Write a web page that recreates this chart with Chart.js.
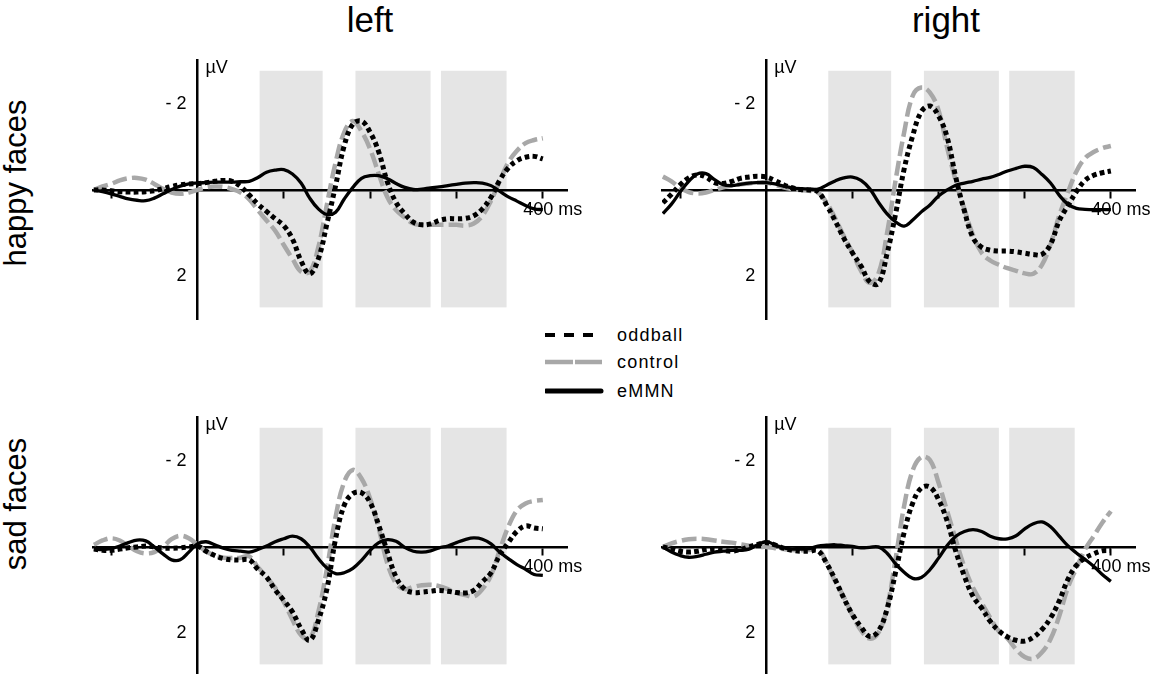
<!DOCTYPE html>
<html>
<head>
<meta charset="utf-8">
<script src="https://cdn.jsdelivr.net/npm/chart.js@4.4.0/dist/chart.umd.min.js"></script>
<style>
  body { margin: 0; background: #fff; width: 1156px; height: 674px; position: relative; overflow: hidden;
         font-family: 'Liberation Sans', Arial, sans-serif; color: #000; }
  .panel { position: absolute; }
  .col-title { position: absolute; top: 0; font-size: 35px; line-height: 40px; transform: translateX(-50%); }
  .row-title { position: absolute; font-size: 31px; line-height: 34px; white-space: nowrap;
               transform: translate(-50%, -50%) rotate(-90deg); }
  .leg-line { position: absolute; left: 545px; }
  .leg-text { position: absolute; left: 617px; font-size: 18px; line-height: 20px; letter-spacing: 1.2px; }
</style>
</head>
<body>

<div class="col-title" style="left:370px">left</div>
<div class="col-title" style="left:946px">right</div>
<div class="row-title" style="left:16px; top:183px">happy faces</div>
<div class="row-title" style="left:16px; top:504px">sad faces</div>

<svg class="leg-line" style="top:330px" width="60" height="10"><line x1="0" y1="5" x2="48" y2="5" stroke="#000" stroke-width="4" stroke-dasharray="10 9"/></svg>
<div class="leg-text" style="top:325px">oddball</div>
<svg class="leg-line" style="top:357px" width="60" height="10"><line x1="0" y1="5" x2="57" y2="5" stroke="#a8a8a8" stroke-width="4.5" stroke-dasharray="28 2"/></svg>
<div class="leg-text" style="top:352px">control</div>
<svg class="leg-line" style="top:386px" width="60" height="10"><line x1="1" y1="5" x2="56" y2="5" stroke="#000" stroke-width="5" stroke-linecap="round"/></svg>
<div class="leg-text" style="top:381px">eMMN</div>

<div class="panel" style="left:83px; top:50px; width:510px; height:275px"><canvas id="happy-left"></canvas></div>
<div class="panel" style="left:652px; top:50px; width:504px; height:275px"><canvas id="happy-right"></canvas></div>
<div class="panel" style="left:83px; top:407px; width:510px; height:275px"><canvas id="sad-left"></canvas></div>
<div class="panel" style="left:652px; top:407px; width:504px; height:275px"><canvas id="sad-right"></canvas></div>

<script>
// time in ms, one sample every 10 ms
const times = [-120, -110, -100, -90, -80, -70, -60, -50, -40, -30, -20, -10, 0,
    10, 20, 30, 40, 50, 60, 70, 80, 90, 100, 110, 120, 130, 140, 150, 160, 170, 180, 190, 200,
    210, 220, 230, 240, 250, 260, 270, 280, 290, 300, 310, 320, 330, 340, 350, 360, 370, 380, 390, 400]

// µV, happy faces, left
const happyLeftOddball = [0, 0, 0.02, 0.04, 0.05, 0.05, 0.04, 0.02, -0.03, -0.08, -0.12, -0.14, -0.15,
    -0.17, -0.2, -0.22, -0.2, -0.08, 0.12, 0.33, 0.5, 0.67, 0.83, 1.14, 1.65, 1.95, 1.6, 0.78, -0.1, -1.03, -1.53, -1.6, -1.34,
    -0.88, -0.18, 0.29, 0.55, 0.75, 0.81, 0.79, 0.71, 0.67, 0.67, 0.66, 0.6, 0.44, 0.17, -0.22, -0.51, -0.68, -0.76, -0.78, -0.72]
const happyLeftControl = [0, -0.08, -0.14, -0.22, -0.27, -0.28, -0.24, -0.14, -0.03, 0.06, 0.09, 0.06, 0,
    -0.06, -0.08, -0.07, -0.02, 0.06, 0.22, 0.47, 0.71, 0.95, 1.28, 1.6, 1.9, 1.9, 1.33, 0.33, -0.64, -1.34, -1.6, -1.36, -0.95,
    -0.37, 0.17, 0.47, 0.64, 0.78, 0.81, 0.81, 0.81, 0.81, 0.81, 0.83, 0.78, 0.6, 0.25, -0.2, -0.64, -0.91, -1.09, -1.16, -1.2]
const happyLeftMMN = [0, 0.04, 0.09, 0.15, 0.21, 0.24, 0.25, 0.19, 0.09, -0.01, -0.09, -0.14, -0.16,
    -0.17, -0.18, -0.18, -0.18, -0.19, -0.2, -0.29, -0.41, -0.46, -0.47, -0.37, -0.16, 0.19, 0.44, 0.57, 0.52, 0.21, -0.06, -0.27, -0.33,
    -0.33, -0.26, -0.15, -0.06, -0.01, -0.02, -0.05, -0.07, -0.1, -0.13, -0.16, -0.17, -0.16, -0.1, 0.03, 0.16, 0.26, 0.36, 0.44, 0.46]

// µV, happy faces, right
const happyRightOddball = [0.3, 0.1, -0.12, -0.28, -0.35, -0.3, -0.17, -0.15, -0.2, -0.27, -0.3, -0.32, -0.3,
    -0.22, -0.12, -0.05, -0.01, 0, 0.04, 0.35, 0.72, 1.12, 1.46, 1.77, 2.13, 2.18, 1.5, 0.57, -0.48, -1.26, -1.82, -1.95, -1.72,
    -1.22, -0.29, 0.49, 1.11, 1.33, 1.4, 1.42, 1.42, 1.44, 1.47, 1.5, 1.5, 1.26, 0.72, 0.37, 0.04, -0.22, -0.34, -0.4, -0.44]
const happyRightControl = [-0.31, -0.2, -0.05, 0.05, 0.08, 0.06, 0, -0.06, -0.1, -0.13, -0.15, -0.17, -0.17,
    -0.12, -0.06, -0.02, 0, 0.02, 0.06, 0.29, 0.66, 1.07, 1.46, 1.88, 2.16, 1.96, 1.03, -0.21, -1.33, -2.19, -2.38, -2.26, -1.85,
    -0.98, -0.21, 0.45, 1.05, 1.46, 1.64, 1.74, 1.82, 1.88, 1.94, 1.95, 1.74, 1.26, 0.6, 0.06, -0.43, -0.74, -0.88, -0.97, -1.02]
const happyRightMMN = [0.55, 0.33, 0.05, -0.2, -0.37, -0.38, -0.24, -0.12, -0.1, -0.13, -0.16, -0.17, -0.17,
    -0.14, -0.09, -0.05, -0.03, -0.02, -0.02, -0.11, -0.21, -0.28, -0.3, -0.22, -0.03, 0.28, 0.55, 0.74, 0.84, 0.7, 0.51, 0.35, 0.14,
    0, -0.11, -0.16, -0.2, -0.25, -0.29, -0.36, -0.44, -0.5, -0.55, -0.52, -0.36, -0.16, 0.12, 0.33, 0.43, 0.45, 0.46, 0.46, 0.46]

// µV, sad faces, left
const sadLeftOddball = [0.05, 0.08, 0.08, 0.05, 0.02, 0, -0.02, 0, 0.03, 0.03, 0.02, 0, -0.02,
    0.1, 0.2, 0.27, 0.3, 0.3, 0.3, 0.52, 0.7, 1, 1.24, 1.51, 1.9, 2.17, 1.71, 0.97, -0.19, -0.97, -1.24, -1.26, -1.03,
    -0.5, 0.12, 0.7, 0.98, 1.06, 1.05, 1.03, 1.01, 1.03, 1.06, 1.07, 1.01, 0.81, 0.6, 0.19, -0.1, -0.36, -0.49, -0.44, -0.42]
const sadLeftControl = [-0.05, -0.15, -0.2, -0.15, -0.02, 0.1, 0.15, 0.12, 0, -0.18, -0.26, -0.2, -0.05,
    0.1, 0.2, 0.25, 0.26, 0.25, 0.22, 0.47, 0.7, 0.95, 1.28, 1.69, 2.05, 2.13, 1.51, 0.5, -0.7, -1.51, -1.79, -1.59, -1.12,
    -0.43, 0.39, 0.85, 0.98, 0.93, 0.89, 0.88, 0.91, 0.98, 1.07, 1.12, 1.15, 0.98, 0.66, 0.08, -0.47, -0.85, -1.01, -1.07, -1.09]
const sadLeftMMN = [0.05, 0.06, 0.04, -0.02, -0.1, -0.16, -0.14, 0, 0.16, 0.3, 0.3, 0.12, -0.07,
    -0.12, -0.05, 0.03, 0.08, 0.1, 0.12, 0.06, -0.02, -0.12, -0.19, -0.25, -0.19, 0, 0.27, 0.49, 0.62, 0.6, 0.5, 0.31, 0.08,
    -0.1, -0.17, -0.13, 0.01, 0.1, 0.12, 0.09, 0.02, -0.02, -0.1, -0.17, -0.21, -0.18, -0.07, 0.12, 0.27, 0.41, 0.52, 0.64, 0.66]

// µV, sad faces, right
const sadRightOddball = [0, 0.05, 0.1, 0.12, 0.1, 0.06, 0.05, 0.08, 0.1, 0.06, 0, -0.06, -0.1,
    -0.05, 0.03, 0.08, 0.1, 0.1, 0.09, 0.38, 0.76, 1.19, 1.57, 1.86, 2.08, 1.96, 1.46, 0.6, -0.33, -1.02, -1.37, -1.39, -1.1,
    -0.6, 0.1, 0.68, 1.15, 1.42, 1.73, 1.95, 2.09, 2.17, 2.19, 2.1, 1.92, 1.65, 1.26, 0.76, 0.43, 0.26, 0.16, 0.09, 0.08]
const sadRightControl = [0, -0.08, -0.14, -0.18, -0.19, -0.18, -0.15, -0.12, -0.1, -0.06, -0.03, 0, 0,
    0.03, 0.05, 0.07, 0.08, 0.07, 0.05, 0.36, 0.8, 1.16, 1.59, 1.94, 2.13, 2, 1.42, 0.29, -0.95, -1.78, -2.09, -2.02, -1.49,
    -0.83, -0.17, 0.47, 0.95, 1.3, 1.65, 1.96, 2.13, 2.38, 2.56, 2.6, 2.45, 2.14, 1.61, 0.95, 0.49, 0.06, -0.25, -0.56, -0.83]
const sadRightMMN = [0, 0.12, 0.2, 0.24, 0.22, 0.17, 0.12, 0.1, 0.08, 0.08, 0.05, -0.05, -0.12,
    -0.05, 0.02, 0.05, 0.05, 0.04, -0.02, -0.04, -0.05, -0.03, -0.01, 0.02, 0.01, 0, 0.14, 0.39, 0.59, 0.73, 0.71, 0.53, 0.26,
    -0.03, -0.25, -0.36, -0.4, -0.36, -0.25, -0.19, -0.19, -0.26, -0.42, -0.54, -0.58, -0.47, -0.25, -0.03, 0.14, 0.29, 0.45, 0.64, 0.8]

// analysis windows (ms) shaded in grey
const windows = [[72, 145], [183, 270], [282, 358]]
const xTicks = [-100, 100, 200, 300, 400]
const yTicks = [-2, 2]

Chart.defaults.font.family = "'Liberation Sans', Arial, sans-serif"
Chart.defaults.color = '#000'

// grey windows behind everything, plus the y labels and the µV unit
const erpDecor = {
    id: 'erpDecor',
    beforeDraw(chart) {
        const {ctx, scales: {x, y}} = chart
        const top = y.getPixelForValue(-2.77)
        const bottom = y.getPixelForValue(2.73)
        ctx.save()
        ctx.fillStyle = '#e5e5e5'
        windows.forEach(w => {
            const l = x.getPixelForValue(w[0])
            const r = x.getPixelForValue(w[1])
            ctx.fillRect(l, top, r - l, bottom - top)
        })
        ctx.restore()
    },
    afterDraw(chart) {
        const {ctx, scales: {x, y}, chartArea} = chart
        const x0 = x.getPixelForValue(0)
        ctx.save()
        ctx.fillStyle = '#000'
        ctx.font = "18px 'Liberation Sans', Arial, sans-serif"
        ctx.textBaseline = 'middle'
        ctx.textAlign = 'right'
        yTicks.forEach(v => {
            ctx.fillText(v < 0 ? '- ' + (-v) : String(v), x0 - 11, y.getPixelForValue(v))
        })
        ctx.textAlign = 'left'
        ctx.textBaseline = 'top'
        ctx.fillText('µV', x0 + 8, chartArea.top - 1)
        ctx.restore()
    }
}

let makePanel = function(id, oddball, control, mmn, pad) {
    return new Chart(document.getElementById(id), {
        type: 'line',
        data: {
            labels: times,
            datasets: [
                {
                    label: 'eMMN',
                    data: mmn,
                    borderColor: '#000',
                    borderWidth: 3.3,
                    order: 0,
                },
                {
                    label: 'oddball',
                    data: oddball,
                    borderColor: '#000',
                    borderWidth: 5,
                    borderDash: [4.5, 3.5],
                    order: 1,
                },
                {
                    label: 'control',
                    data: control,
                    borderColor: '#a8a8a8',
                    borderWidth: 4.5,
                    borderDash: [15, 5],
                    order: 2,
                },
            ],
        },
        options: {
            responsive: true,
            maintainAspectRatio: false,
            animation: false,
            layout: { padding: pad },
            elements: {
                point: { radius: 0 },
                line: { tension: 0.4, fill: false },
            },
            plugins: {
                legend: { display: false },
                tooltip: { enabled: false },
            },
            scales: {
                x: {
                    type: 'linear',
                    min: -121,
                    max: 428,
                    position: { y: 0 },
                    afterBuildTicks: s => { s.ticks = xTicks.map(v => ({ value: v })) },
                    ticks: {
                        autoSkip: false,
                        maxRotation: 0,
                        padding: 2,
                        labelOffset: 10,
                        font: { size: 18 },
                        callback: v => v === 400 ? '400 ms' : '',
                    },
                    grid: { drawOnChartArea: false, tickLength: 7, tickWidth: 2, tickColor: '#000' },
                    border: { color: '#000', width: 2.5 },
                },
                y: {
                    type: 'linear',
                    min: -3.02,
                    max: 3.0,
                    reverse: true,
                    position: { x: 0 },
                    afterBuildTicks: s => { s.ticks = yTicks.map(v => ({ value: v })) },
                    ticks: { display: false },
                    grid: { drawOnChartArea: false, drawTicks: false },
                    border: { color: '#000', width: 2.5 },
                },
            },
        },
        plugins: [erpDecor],
    })
}

const happyLeftChart = makePanel('happy-left', happyLeftOddball, happyLeftControl, happyLeftMMN,
    { left: 10, right: 26, top: 10, bottom: 6 })
const happyRightChart = makePanel('happy-right', happyRightOddball, happyRightControl, happyRightMMN,
    { left: 10, right: 21, top: 10, bottom: 6 })
const sadLeftChart = makePanel('sad-left', sadLeftOddball, sadLeftControl, sadLeftMMN,
    { left: 10, right: 26, top: 10, bottom: 6 })
const sadRightChart = makePanel('sad-right', sadRightOddball, sadRightControl, sadRightMMN,
    { left: 10, right: 21, top: 10, bottom: 6 })
</script>
</body>
</html>
